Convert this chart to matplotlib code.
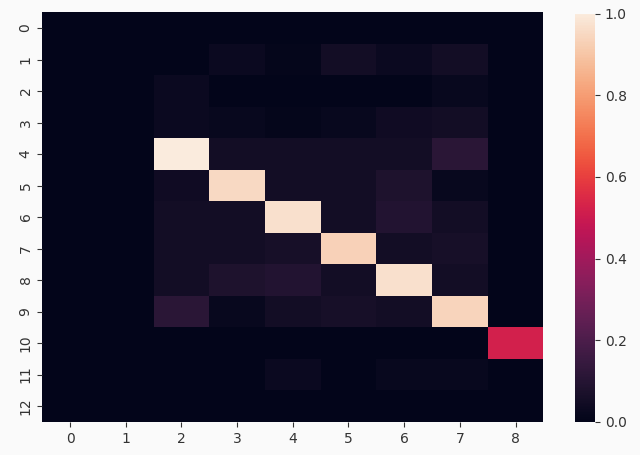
import numpy as np
import matplotlib
matplotlib.use("Agg")
import matplotlib.pyplot as plt
import seaborn as sns

# confusion-style matrix, 13 rows x 9 columns
rows = list(range(13))
cols = list(range(9))

row0 = [0, 0, 0.00, 0.00, 0.00, 0.00, 0.00, 0.00, 0]
row1 = [0, 0, 0.00, 0.03, 0.01, 0.05, 0.03, 0.05, 0]
row2 = [0, 0, 0.03, 0.00, 0.00, 0.00, 0.00, 0.02, 0]
row3 = [0, 0, 0.03, 0.02, 0.01, 0.02, 0.04, 0.05, 0]
row4 = [0, 0, 1.00, 0.05, 0.05, 0.05, 0.05, 0.11, 0]
row5 = [0, 0, 0.04, 0.95, 0.05, 0.05, 0.08, 0.02, 0]
row6 = [0, 0, 0.05, 0.05, 0.97, 0.05, 0.09, 0.05, 0]
row7 = [0, 0, 0.05, 0.05, 0.06, 0.93, 0.05, 0.06, 0]
row8 = [0, 0, 0.05, 0.08, 0.09, 0.05, 0.97, 0.05, 0]
row9 = [0, 0, 0.11, 0.02, 0.05, 0.06, 0.05, 0.94, 0]
row10 = [0, 0, 0.00, 0.00, 0.00, 0.00, 0.00, 0.00, 0.52]
row11 = [0, 0, 0.00, 0.00, 0.03, 0.00, 0.02, 0.02, 0]
row12 = [0, 0, 0.00, 0.00, 0.00, 0.00, 0.00, 0.00, 0]

mat = np.array([row0, row1, row2, row3, row4, row5, row6, row7,
                row8, row9, row10, row11, row12])

fig = plt.figure(figsize=(6.4, 4.55), dpi=100, facecolor="#fafafa")
ax = fig.add_axes([0.066, 0.073, 0.783, 0.9])
cax = fig.add_axes([0.898, 0.073, 0.032, 0.897])

sns.heatmap(mat, ax=ax, cbar_ax=cax, vmin=0, vmax=1,
            xticklabels=cols, yticklabels=rows)
ax.tick_params(labelsize=10, colors="#333333")
for lab in ax.get_yticklabels():
    lab.set_rotation(90)
    lab.set_va("center")
cax.tick_params(labelsize=10, colors="#333333")

fig.savefig("out.png", dpi=100, facecolor=fig.get_facecolor())
